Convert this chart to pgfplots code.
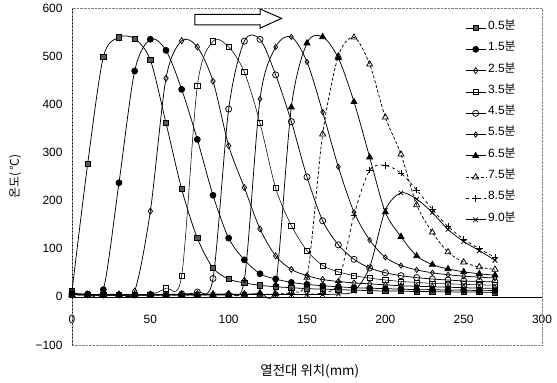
\documentclass[border=0pt]{standalone}
\usepackage{fontspec}
\setmainfont{Liberation Sans}
\newfontfamily\kr{Noto Sans CJK KR}
\usepackage{pgfplots}
\pgfplotsset{compat=1.18}
\begin{document}
\begin{tikzpicture}
\useasboundingbox (0,0) rectangle (557bp,383bp);
\begin{axis}[
  at={(72bp,38bp)}, anchor=south west,
  scale only axis, width=470bp, height=337bp,
  xmin=0, xmax=300, ymin=-100, ymax=600,
  axis x line=middle, axis y line=left,
  axis line style={-, black},
  hide obscured x ticks=false, hide obscured y ticks=false,
  xtick={0,50,100,150,200,250,300},
  xticklabels={0,50,100,150,200,250,300},
  ytick={-100,0,100,200,300,400,500,600},
  yticklabels={−100,0,100,200,300,400,500,600},
  major tick length=0pt,
  tick label style={font=\fontsize{12}{14}\selectfont},
  xticklabel style={anchor=north, yshift=-15bp},
  yticklabel style={anchor=east, xshift=-6bp},
  clip=false,
  every axis plot/.append style={line width=0.75pt, black, smooth, tension=0.5},
  mark size=2.8pt,
  legend image code/.code={\draw[mark repeat=2,mark phase=2,#1] plot coordinates {(0bp,0bp) (10bp,0bp) (20bp,0bp)};},
  legend style={at={(axis cs:249,585)}, anchor=north west, draw=none, fill=none,
    font=\fontsize{12}{14}\selectfont, row sep=0pt, cells={anchor=west},
    nodes={inner ysep=0pt, text height=12bp, text depth=9.3bp}},
]
\draw[gray, densely dotted] (rel axis cs:0,0) rectangle (rel axis cs:1,1);
\draw[black, line width=1pt] (axis cs:78.5,587) -- (axis cs:120,587) -- (axis cs:120,598) -- (axis cs:133.8,578.5) -- (axis cs:120,558) -- (axis cs:120,565) -- (axis cs:78.5,565) -- cycle;

% 0.5
\addplot[mark=square*, mark options={fill=black!65, draw=black}, mark size=2.6pt] coordinates {
(0,12)(10,276)(20,498)(30,539)(40,536)(50,492)(60,361)(70,224)(80,122)(90,60)(100,37)(110,29)(120,24)(130,21)(140,19)(150,17)(160,16)(170,15)(180,14)(190,13)(200,12)(210,12)(220,11)(230,11)(240,10)(250,10)(260,10)(270,9)};
% 1.5
\addplot[mark=*, mark size=3pt] coordinates {
(0,8)(10,6)(20,15)(30,237)(40,469)(50,535)(60,512)(70,431)(80,327)(90,211)(100,122)(110,77)(120,48)(130,37)(140,30)(150,26)(160,23)(170,21)(180,19)(190,18)(200,17)(210,16)(220,15)(230,15)(240,14)(250,14)(260,13)(270,13)};
% 2.5
\addplot[mark=diamond, mark options={fill=white}, mark size=3pt] coordinates {
(0,6)(10,5)(20,5)(30,6)(40,12)(50,178)(60,454)(70,532)(80,519)(90,448)(100,314)(110,227)(120,141)(130,85)(140,57)(150,44)(160,36)(170,32)(180,29)(190,27)(200,25)(210,23)(220,22)(230,21)(240,20)(250,19)(260,18)(270,18)};
% 3.5
\addplot[mark=square, mark options={fill=white}, mark size=2.6pt, line width=0.55pt] coordinates {
(0,5)(10,4)(20,4)(30,4)(40,5)(50,5)(60,18)(70,44)(80,438)(90,531)(100,519)(110,467)(120,361)(130,226)(140,148)(150,96)(160,65)(170,52)(180,44)(190,39)(200,35)(210,32)(220,30)(230,28)(240,27)(250,26)(260,25)(270,24)};
% 4.5
\addplot[mark=o, mark options={fill=white}, mark size=3.1pt] coordinates {
(0,5)(10,4)(20,4)(30,4)(40,4)(50,5)(60,5)(70,6)(80,10)(90,38)(100,390)(110,531)(120,535)(130,461)(140,364)(150,249)(160,158)(170,108)(180,78)(190,60)(200,50)(210,44)(220,40)(230,37)(240,35)(250,33)(260,32)(270,31)};
% 5.5
\addplot[mark=diamond, mark options={fill=white}, mark size=2.6pt] coordinates {
(0,5)(10,4)(20,4)(30,4)(40,4)(50,4)(60,5)(70,5)(80,5)(90,6)(100,8)(110,35)(120,411)(130,519)(140,540)(150,488)(160,384)(170,270)(180,176)(190,118)(200,82)(210,65)(220,56)(230,50)(240,46)(250,43)(260,41)(270,39)};
% 6.5
\addplot[mark=triangle*, mark size=3.5pt] coordinates {
(0,5)(10,4)(20,4)(30,4)(40,4)(50,4)(60,4)(70,5)(80,5)(90,5)(100,5)(110,6)(120,8)(130,25)(140,394)(150,527)(160,540)(170,496)(180,405)(190,290)(200,176)(210,125)(220,85)(230,67)(240,58)(250,52)(260,48)(270,45)};
% 7.5
\addplot[mark=triangle, mark options={fill=white, solid}, mark size=3.5pt, densely dashed] coordinates {
(0,5)(10,4)(20,4)(30,4)(40,4)(50,4)(60,4)(70,4)(80,5)(90,5)(100,5)(110,5)(120,5)(130,6)(140,10)(150,40)(160,338)(170,500)(180,539)(190,483)(200,373)(210,296)(220,191)(230,134)(240,93)(250,72)(260,62)(270,57)};
% 8.5
\addplot[mark=+, mark options={solid}, mark size=3.2pt, dashed] coordinates {
(0,5)(10,4)(20,4)(30,4)(40,4)(50,4)(60,4)(70,4)(80,4)(90,4)(100,5)(110,5)(120,5)(130,5)(140,5)(150,6)(160,8)(170,30)(180,170)(190,263)(200,273)(210,257)(220,222)(230,182)(240,146)(250,120)(260,100)(270,82)};
% 9.0
\addplot[mark=x, mark size=3.2pt] coordinates {
(0,5)(10,4)(20,4)(30,4)(40,4)(50,4)(60,4)(70,4)(80,4)(90,4)(100,4)(110,5)(120,5)(130,5)(140,5)(150,5)(160,5)(170,6)(180,12)(190,62)(200,180)(210,216)(220,203)(230,175)(240,140)(250,115)(260,96)(270,76)};
\legend{0.5{\kr 분},1.5{\kr 분},2.5{\kr 분},3.5{\kr 분},4.5{\kr 분},5.5{\kr 분},6.5{\kr 분},7.5{\kr 분},8.5{\kr 분},9.0{\kr 분}}

\node[rotate=90, font=\kr\fontsize{12}{14}\selectfont] at (rel axis cs:-0.121,0.5) {온도(\,°C)};
\node[font=\kr\fontsize{13.5}{15}\selectfont] at (rel axis cs:0.506,-0.077) {열전대 위치(mm)};
\end{axis}
\end{tikzpicture}
\end{document}
